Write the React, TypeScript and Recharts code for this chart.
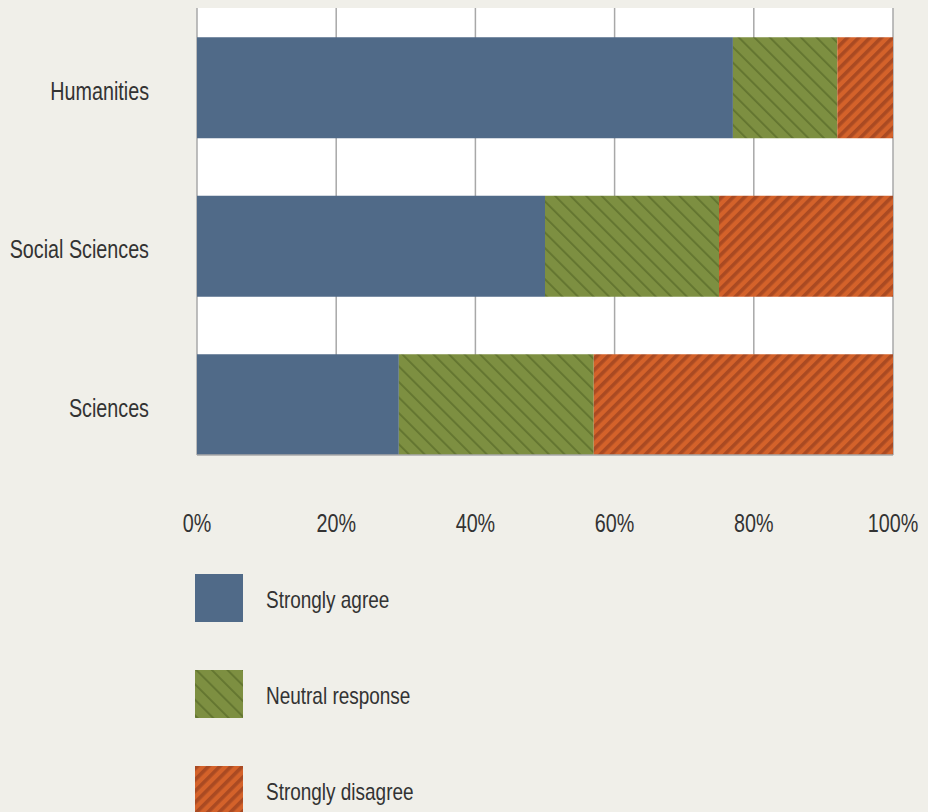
import React from 'react';
import { BarChart, Bar, XAxis, YAxis, CartesianGrid, Legend } from 'recharts';

const CATEGORIES = ['Humanities', 'Social Sciences', 'Sciences'];
const AGREE = [77, 50, 29];
const NEUTRAL = [15, 25, 28];
const DISAGREE = [8, 25, 43];
const X_TICKS = [0, 20, 40, 60, 80, 100];

const SERIES = [
    { key: 'agree', name: 'Strongly agree', fill: '#506a88' },
    { key: 'neutral', name: 'Neutral response', fill: 'url(#greenHatch)' },
    { key: 'disagree', name: 'Strongly disagree', fill: 'url(#orangeStripe)' },
];

// no narrow font installed, so squeeze Liberation Sans horizontally
const FONT = "'Liberation Sans', Arial, sans-serif";
const SQUEEZE = 0.79;
const TEXT = '#333333';
const BG = '#f0efe9';

const data = CATEGORIES.map((c, i) => ({
    pos: i,
    name: c,
    agree: AGREE[i],
    neutral: NEUTRAL[i],
    disagree: DISAGREE[i],
}));

function Patterns() {
    return (
        <svg width={0} height={0} style={{ position: 'absolute' }}>
            <defs>
                <pattern id="greenHatch" patternUnits="userSpaceOnUse" width={11} height={11} patternTransform="rotate(-45)">
                    <rect width={11} height={11} fill="#7d8f41" />
                    <rect x={0} y={0} width={1.8} height={11} fill="#62742f" />
                </pattern>
                <pattern id="orangeStripe" patternUnits="userSpaceOnUse" width={8} height={8} patternTransform="rotate(45)">
                    <rect width={8} height={8} fill="#d4622a" />
                    <rect x={0} y={0} width={3.6} height={8} fill="#aa4a22" />
                </pattern>
            </defs>
        </svg>
    );
}

function XTick({ x, y, payload }: any) {
    return (
        <g transform={`translate(${x},${y}) scale(${SQUEEZE},1)`}>
            <text x={0} y={0} dy={75} textAnchor="middle" fontFamily={FONT} fontSize={25} fill={TEXT}>
                {`${payload.value}%`}
            </text>
        </g>
    );
}

function YTick({ x, y, payload }: any) {
    return (
        <g transform={`translate(${x - 46},${y}) scale(${SQUEEZE},1)`}>
            <text x={0} y={0} dy={12} textAnchor="end" fontFamily={FONT} fontSize={25} fill={TEXT}>
                {CATEGORIES[payload.value]}
            </text>
        </g>
    );
}

function LegendBox() {
    return (
        <div>
            {SERIES.map(s => (
                <div key={s.key} style={{ display: 'flex', alignItems: 'center', height: 96 }}>
                    <svg width={48} height={48} style={{ flex: 'none' }}>
                        <rect width={48} height={48} fill={s.fill} />
                    </svg>
                    <span
                        style={{
                            marginLeft: 23,
                            paddingTop: 4,
                            fontFamily: FONT,
                            fontSize: 24,
                            color: TEXT,
                            whiteSpace: 'nowrap',
                            display: 'inline-block',
                            transform: `scaleX(${SQUEEZE})`,
                            transformOrigin: 'left center',
                        }}
                    >
                        {s.name}
                    </span>
                </div>
            ))}
        </div>
    );
}

export default function App() {
    return (
        <div style={{ position: 'absolute', left: 0, top: 0, width: 928, height: 812, background: BG, overflow: 'hidden' }}>
            <Patterns />
            <BarChart
                width={928}
                height={560}
                data={data}
                layout="vertical"
                margin={{ top: 8, right: 35, left: 0, bottom: 0 }}
            >
                <CartesianGrid horizontal={false} vertical={true} fill="#ffffff" stroke="#a8a8a8" strokeWidth={1.5} />
                <XAxis
                    type="number"
                    domain={[0, 100]}
                    ticks={X_TICKS}
                    height={105}
                    tickLine={false}
                    tickSize={0}
                    axisLine={{ stroke: '#a8a8a8', strokeWidth: 1.5 }}
                    tick={<XTick />}
                />
                <YAxis
                    type="number"
                    dataKey="pos"
                    domain={[-0.5016, 2.3186]}
                    ticks={[0, 1, 2]}
                    width={197}
                    tickLine={false}
                    tickSize={0}
                    axisLine={false}
                    allowDataOverflow
                    tick={<YTick />}
                />
                {SERIES.map(s => (
                    <Bar key={s.key} dataKey={s.key} name={s.name} stackId="a" fill={s.fill} barSize={101} isAnimationActive={false} />
                ))}
                <Legend
                    layout="vertical"
                    align="center"
                    verticalAlign="middle"
                    wrapperStyle={{ left: 195, top: 550 }}
                    content={() => <LegendBox />}
                />
            </BarChart>
        </div>
    );
}
